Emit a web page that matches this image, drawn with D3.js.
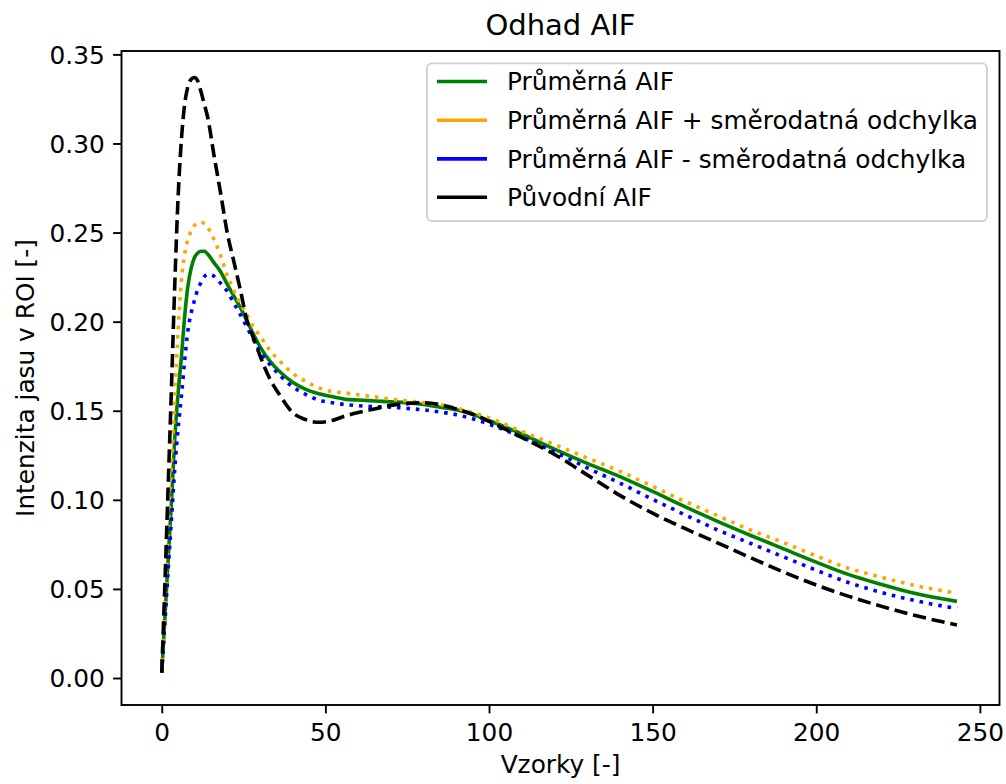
<!DOCTYPE html>
<html>
<head>
<meta charset="utf-8">
<script src="https://cdn.jsdelivr.net/npm/d3@7"></script>
<style>
  body { margin: 0; background: #fff; }
  text { font-family: "DejaVu Sans", sans-serif; fill: #000; }
</style>
</head>
<body>
<svg id="chart" width="1006" height="784"></svg>
<script>
// x positions of the read-off samples
var samples = [0, 1, 2, 3, 4, 5, 6, 7, 8, 9, 10, 11, 12, 13, 14, 16, 18, 20, 22, 24, 26, 28, 30, 33, 36, 40, 44, 48, 52, 56, 60, 65, 70, 75, 80, 85, 90, 95, 100, 110, 120, 130, 140, 150, 160, 170, 180, 190, 200, 210, 220, 230, 243];

var meanAif = [0.003, 0.035, 0.068, 0.1, 0.135, 0.16, 0.18, 0.203, 0.22, 0.23, 0.236, 0.2385, 0.2395, 0.2395, 0.238, 0.233, 0.228, 0.221, 0.2145, 0.208, 0.2005, 0.193, 0.186, 0.178, 0.172, 0.166, 0.162, 0.1595, 0.158, 0.1565, 0.156, 0.1555, 0.155, 0.1545, 0.1535, 0.152, 0.1505, 0.148, 0.1445, 0.137, 0.1285, 0.1205, 0.113, 0.1047, 0.096, 0.0878, 0.08, 0.0725, 0.065, 0.058, 0.0525, 0.0475, 0.043];

var meanPlusStd = [0.004, 0.043, 0.082, 0.12, 0.158, 0.195, 0.223, 0.238, 0.246, 0.251, 0.254, 0.2555, 0.2558, 0.255, 0.253, 0.246, 0.237, 0.226, 0.2175, 0.21, 0.204, 0.197, 0.192, 0.184, 0.178, 0.171, 0.1665, 0.1628, 0.1608, 0.16, 0.159, 0.1578, 0.1565, 0.1555, 0.1545, 0.1534, 0.1515, 0.149, 0.146, 0.1384, 0.131, 0.1235, 0.116, 0.1075, 0.099, 0.091, 0.083, 0.076, 0.0685, 0.0615, 0.0565, 0.052, 0.0476];

var meanMinusStd = [0.003, 0.032, 0.062, 0.09, 0.118, 0.14, 0.158, 0.178, 0.195, 0.205, 0.212, 0.218, 0.222, 0.2252, 0.2265, 0.2255, 0.2215, 0.217, 0.2105, 0.204, 0.197, 0.19, 0.1835, 0.176, 0.17, 0.1635, 0.1592, 0.156, 0.1545, 0.1535, 0.1528, 0.1523, 0.152, 0.1513, 0.1505, 0.1493, 0.1478, 0.1455, 0.1425, 0.1352, 0.127, 0.118, 0.1094, 0.1003, 0.0915, 0.083, 0.0755, 0.068, 0.0605, 0.0535, 0.048, 0.0435, 0.039];

var originalAif = [0.003, 0.055, 0.11, 0.165, 0.222, 0.27, 0.302, 0.322, 0.332, 0.336, 0.337, 0.335, 0.329, 0.322, 0.315, 0.293, 0.272, 0.25, 0.234, 0.218, 0.201, 0.191, 0.181, 0.168, 0.159, 0.149, 0.145, 0.1435, 0.1445, 0.147, 0.149, 0.151, 0.153, 0.154, 0.1545, 0.1535, 0.151, 0.148, 0.144, 0.135, 0.1255, 0.114, 0.1025, 0.0925, 0.0838, 0.0757, 0.0675, 0.0595, 0.0522, 0.0458, 0.0402, 0.0352, 0.0298];

var seriesNames = ['Průměrná AIF', 'Průměrná AIF + směrodatná odchylka', 'Průměrná AIF - směrodatná odchylka', 'Původní AIF'];
var seriesColors = ['green', 'orange', 'blue', 'black'];
var seriesDash = [null, '3.6,5.9', '3.6,5.9', '13.3,5.8'];
var seriesValues = [meanAif, meanPlusStd, meanMinusStd, originalAif];

var xTicks = [0, 50, 100, 150, 200, 250];
var yTicks = [0.00, 0.05, 0.10, 0.15, 0.20, 0.25, 0.30, 0.35];

var plot = {left: 121.5, right: 999.5, top: 51, bottom: 705};
var fontSize = 24.8;

var svg = d3.select('#chart');
svg.append('rect').attr('width', 1006).attr('height', 784).attr('fill', '#fff');

var xScale = d3.scaleLinear().domain([-12.3, 256]).range([plot.left, plot.right]);
var yScale = d3.scaleLinear().domain([-0.01515, 0.3519]).range([plot.bottom, plot.top]);

// axes
var xAxis = svg.append('g')
  .attr('transform', `translate(0, ${plot.bottom})`)
  .call(d3.axisBottom(xScale).tickValues(xTicks).tickSize(8.4).tickPadding(8).tickFormat(d3.format('d')));
var yAxis = svg.append('g')
  .attr('transform', `translate(${plot.left}, 0)`)
  .call(d3.axisLeft(yScale).tickValues(yTicks).tickSize(8.4).tickPadding(8.4).tickFormat(d3.format('.2f')));

[xAxis, yAxis].forEach(function(ax) {
  ax.select('.domain').remove();
  ax.selectAll('.tick line').attr('stroke', '#000').attr('stroke-width', 1.9);
  ax.selectAll('.tick text')
    .style('font-family', '"DejaVu Sans", sans-serif')
    .style('font-size', fontSize + 'px')
    .attr('fill', '#000');
});
xAxis.selectAll('.tick text').attr('dy', null).attr('y', 36);
yAxis.selectAll('.tick text').attr('dy', '0.36em');

// lines
var line = d3.line()
  .x((d, i) => xScale(samples[i]))
  .y(d => yScale(d))
  .curve(d3.curveMonotoneX);

svg.append('clipPath').attr('id', 'clip')
  .append('rect')
  .attr('x', plot.left).attr('y', plot.top)
  .attr('width', plot.right - plot.left).attr('height', plot.bottom - plot.top);

svg.append('g')
  .attr('clip-path', 'url(#clip)')
  .selectAll('path')
  .data(seriesValues)
  .enter()
  .append('path')
  .attr('d', d => line(d))
  .attr('fill', 'none')
  .attr('stroke', (d, i) => seriesColors[i])
  .attr('stroke-width', 3.6)
  .attr('stroke-dasharray', (d, i) => seriesDash[i]);

// frame
svg.append('rect')
  .attr('x', plot.left).attr('y', plot.top)
  .attr('width', plot.right - plot.left).attr('height', plot.bottom - plot.top)
  .attr('fill', 'none')
  .attr('stroke', '#000')
  .attr('stroke-width', 1.9);

// title and labels
svg.append('text')
  .attr('x', (plot.left + plot.right) / 2).attr('y', 35)
  .attr('text-anchor', 'middle')
  .style('font-size', '29px')
  .text('Odhad AIF');

svg.append('text')
  .attr('x', (plot.left + plot.right) / 2).attr('y', 773)
  .attr('text-anchor', 'middle')
  .style('font-size', fontSize + 'px')
  .text('Vzorky [-]');

svg.append('text')
  .attr('transform', `translate(34, ${(plot.top + plot.bottom) / 2}) rotate(-90)`)
  .attr('text-anchor', 'middle')
  .style('font-size', fontSize + 'px')
  .text('Intenzita jasu v ROI [-]');

// legend
var legend = svg.append('g');
legend.append('rect')
  .attr('x', 427).attr('y', 63.4)
  .attr('width', 560).attr('height', 157.6)
  .attr('rx', 5)
  .attr('fill', '#fff').attr('fill-opacity', 0.8)
  .attr('stroke', '#d0d0d0').attr('stroke-width', 1.9);

var rowY = [81.5, 120.2, 158.9, 197.3];
legend.selectAll('g.item')
  .data(seriesNames)
  .enter()
  .append('g')
  .attr('class', 'item')
  .attr('transform', (d, i) => `translate(0, ${rowY[i]})`)
  .each(function(d, i) {
    d3.select(this).append('line')
      .attr('x1', 437).attr('x2', 487)
      .attr('y1', 0).attr('y2', 0)
      .attr('stroke', seriesColors[i])
      .attr('stroke-width', 3.6);
    d3.select(this).append('text')
      .attr('x', 507).attr('y', 0).attr('dy', '0.36em')
      .style('font-size', fontSize + 'px')
      .text(d);
  });
</script>
</body>
</html>
